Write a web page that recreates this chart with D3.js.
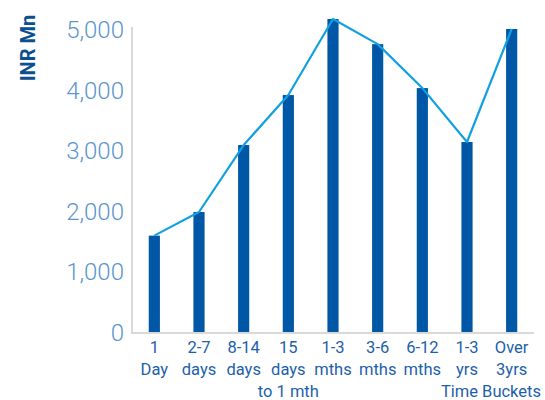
<!DOCTYPE html>
<html>
<head>
<meta charset="utf-8">
<script src="https://cdn.jsdelivr.net/npm/d3@7/dist/d3.min.js"></script>
<style>
  html, body { margin: 0; padding: 0; background: #fff; }
  svg { display: block; }
</style>
</head>
<body>
<svg id="chart" width="545" height="400"></svg>
<script>
// Maturity buckets and amounts (INR Mn)
const categories = ["1 Day", "2-7 days", "8-14 days", "15 days to 1 mth", "1-3 mths", "3-6 mths", "6-12 mths", "1-3 yrs", "Over 3yrs"];
const categoryLines = [["1", "Day"], ["2-7", "days"], ["8-14", "days"], ["15", "days", "to 1 mth"], ["1-3", "mths"], ["3-6", "mths"], ["6-12", "mths"], ["1-3", "yrs"], ["Over", "3yrs"]];
const values = [1590, 1980, 3085, 3910, 5165, 4750, 4025, 3135, 5000];
const yTicks = [0, 1000, 2000, 3000, 4000, 5000];

const svg = d3.select("#chart");
const x0 = 132, x1 = 534, yBase = 332, yTop = 29;

const x = d3.scaleBand().domain(categories).range([x0, x1]).paddingInner(0.75).paddingOuter(0.375);
const y = d3.scaleLinear().domain([0, 5000]).range([yBase, yTop]);

// Bars
svg.append("g").selectAll("rect").data(values).join("rect")
  .attr("x", (d, i) => x(categories[i]))
  .attr("y", d => y(d))
  .attr("width", x.bandwidth())
  .attr("height", d => yBase - y(d))
  .attr("fill", "#0057a5");

// Trend line through bar tops
const line = d3.line()
  .x((d, i) => x(categories[i]) + x.bandwidth() / 2)
  .y(d => y(d));
svg.append("path").datum(values)
  .attr("d", line)
  .attr("fill", "none")
  .attr("stroke", "#12a0e0")
  .attr("stroke-width", 2.2)
  .attr("stroke-linejoin", "round");

// Axes lines
svg.append("line").attr("x1", x0).attr("x2", x0).attr("y1", y(5000) - 2).attr("y2", yBase + 1)
  .attr("stroke", "#d9d9d9").attr("stroke-width", 2);
svg.append("line").attr("x1", x0 - 1).attr("x2", x1).attr("y1", yBase + 1).attr("y2", yBase + 1)
  .attr("stroke", "#d9d9d9").attr("stroke-width", 2);

// Y tick labels
const fmt = d3.format(",");
svg.append("g").selectAll("text").data(yTicks).join("text")
  .attr("x", 124)
  .attr("y", d => y(d) + 9)
  .attr("text-anchor", "end")
  .attr("font-family", "Roboto, 'Open Sans', sans-serif")
  .attr("font-weight", 300)
  .attr("font-size", 24)
  .attr("fill", "#5b95cf")
  .text(d => fmt(d));

// Y axis title
svg.append("text")
  .attr("transform", "translate(35,48) rotate(-90)")
  .attr("text-anchor", "middle")
  .attr("font-family", "Roboto, 'Open Sans', sans-serif")
  .attr("font-weight", 700)
  .attr("font-size", 20)
  .attr("fill", "#0b4f91")
  .text("INR Mn");

// Category labels
const catG = svg.append("g")
  .attr("font-family", "Roboto, 'Open Sans', sans-serif")
  .attr("font-size", 16.5)
  .attr("fill", "#1d5fa9")
  .attr("text-anchor", "middle");
categories.forEach((c, i) => {
  const cx = x(c) + x.bandwidth() / 2;
  categoryLines[i].forEach((t, j) => {
    catG.append("text")
      .attr("x", cx)
      .attr("y", 353 + j * 22)
      .text(t);
  });
});

// X axis title
svg.append("text")
  .attr("x", 541)
  .attr("y", 397)
  .attr("text-anchor", "end")
  .attr("font-family", "Roboto, 'Open Sans', sans-serif")
  .attr("font-size", 16.5)
  .attr("fill", "#1d5fa9")
  .text("Time Buckets");
</script>
</body>
</html>
